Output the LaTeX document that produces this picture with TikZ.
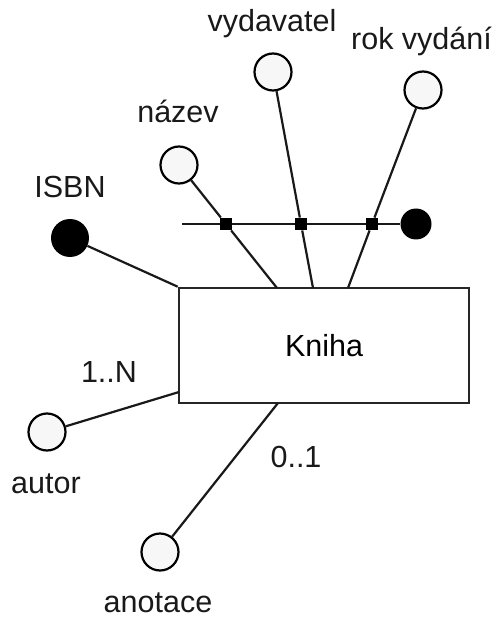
\documentclass[tikz,border=0pt]{standalone}
\usepackage{fontspec}
\setmainfont{Liberation Sans}
\begin{document}
\begin{tikzpicture}[x=1pt,y=-1pt,
  attr/.style={circle,draw=black,fill=black!3,line width=2.2pt,minimum size=37pt,inner sep=0pt},
  keyattr/.style={circle,fill=black,minimum size=38pt,inner sep=0pt},
  enddot/.style={circle,fill=black,minimum size=31pt,inner sep=0pt},
  joint/.style={rectangle,fill=black,minimum size=12.5pt,inner sep=0pt},
  entity/.style={rectangle,draw=black!85,line width=2.6pt,fill=white,minimum width=290pt,minimum height=115pt,inner sep=0pt},
  lbl/.style={anchor=base,inner sep=0pt,font=\fontsize{30.5}{36}\selectfont,text=black!90},
  conn/.style={line width=2.2pt,draw=black!90}]
\useasboundingbox (0,0) rectangle (499,617);

% entity
\node[entity,font=\fontsize{30.5}{36}\selectfont] (kniha) at (324,345.5) {Kniha};

% attribute circles
\node[attr] (nazev) at (179,165) {};
\node[attr] (vydavatel) at (273,72) {};
\node[attr] (rok) at (423,90) {};
\node[keyattr] (isbn) at (70,238) {};
\node[attr] (autor) at (47,432) {};
\node[attr] (anotace) at (160,552) {};

% composite key bar
\coordinate (barstart) at (182,224);
\node[enddot] (bardot) at (416,224) {};
\node[joint] (j1) at (226,224) {};
\node[joint] (j2) at (301,224) {};
\node[joint] (j3) at (372,224) {};

% attachment points on the entity border
\coordinate (t1) at (277,288);
\coordinate (t2) at (313,288);
\coordinate (t3) at (348,288);
\coordinate (lft) at (179,392);
\coordinate (btm) at (278,403);

% connectors
\draw[conn] (barstart) -- (bardot);
\draw[conn] (nazev) -- (j1) -- (t1);
\draw[conn] (vydavatel) -- (j2) -- (t2);
\draw[conn] (rok) -- (j3) -- (t3);
\draw[conn] (isbn) -- (kniha.north west);
\draw[conn] (autor) -- (lft);
\draw[conn] (anotace) -- (btm);

% redraw joints above the lines
\node[joint] at (j1) {};
\node[joint] at (j2) {};
\node[joint] at (j3) {};

% labels
\node[lbl] (lvyd) at (272,32) {vydavatel};
\node[lbl] (lrok) at (421.5,50) {rok vydání};
\node[lbl] (lnaz) at (178,123) {název};
\node[lbl] (lisbn) at (70,198) {ISBN};
\node[lbl] (l1n) at (109,382) {1..N};
\node[lbl] (laut) at (46,493) {autor};
\node[lbl] (l01) at (296,467) {0..1};
\node[lbl] (lano) at (158,612) {anotace};
\end{tikzpicture}
\end{document}
